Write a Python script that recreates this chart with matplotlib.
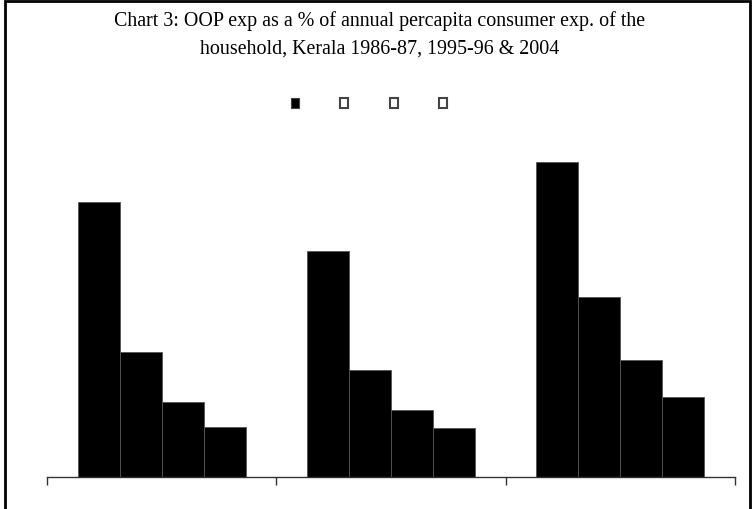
import matplotlib
matplotlib.use("Agg")
import matplotlib.pyplot as plt
from matplotlib.patches import Rectangle, Patch
import numpy as np

# OOP expenditure as % of annual per-capita consumer expenditure
years = ["1986-87", "1995-96", "2004"]
series_names = ["", "", "", ""]
series_values = [
    [22.0, 18.1, 25.2],
    [10.0, 8.6, 14.4],
    [6.0, 5.4, 9.4],
    [4.0, 3.9, 6.4],
]
title = "Chart 3: OOP exp as a % of annual percapita consumer exp. of the\nhousehold, Kerala 1986-87, 1995-96 & 2004"

W, H = 753, 510
fig = plt.figure(figsize=(W / 100, H / 100), dpi=100)
plt.rcParams["font.family"] = ["Liberation Serif", "DejaVu Serif"]

ax = fig.add_axes([47 / W, (H - 478) / H, (735 - 47) / W, (478 - 153) / H])

x = np.arange(len(years))
bw = 0.183
for i, vals in enumerate(series_values):
    ax.bar(x + (i - 1.5) * bw, vals, width=bw, color="black",
           edgecolor="#555555", linewidth=0.6, zorder=2)

ax.set_xlim(-0.5, len(years) - 0.5)
ax.set_ylim(0, 26)
ax.set_xticks(np.arange(len(years) + 1) - 0.5)
ax.set_xticklabels([])
ax.tick_params(axis="x", direction="out", length=6, width=1.0, color="#333333")
ax.set_yticks([])
for s in ["left", "right", "top"]:
    ax.spines[s].set_visible(False)
ax.spines["bottom"].set_color("#333333")
ax.spines["bottom"].set_linewidth(1.0)

# legend: first entry filled, the rest hollow
handles = [Patch(facecolor="black", edgecolor="#444444", linewidth=0.8)]
handles += [Patch(facecolor="white", edgecolor="#444444", linewidth=1.5) for _ in series_names[1:]]
fig.legend(handles, series_names, loc="center", bbox_to_anchor=(369 / W, (H - 106) / H),
           ncol=4, frameon=False, handlelength=0.42, handleheight=0.42,
           handletextpad=0.0, columnspacing=2.12, fontsize=14)

fig.text(380 / W, (H - 35) / H, title, ha="center", va="center",
         fontsize=14.4, linespacing=1.6)

# outer frame
fig.patches.append(Rectangle((5 / W, -0.05), (750 - 5) / W, (H - 2) / H + 0.05,
                             transform=fig.transFigure, fill=False,
                             edgecolor="black", linewidth=2.0))

fig.savefig("out.png", dpi=100)
